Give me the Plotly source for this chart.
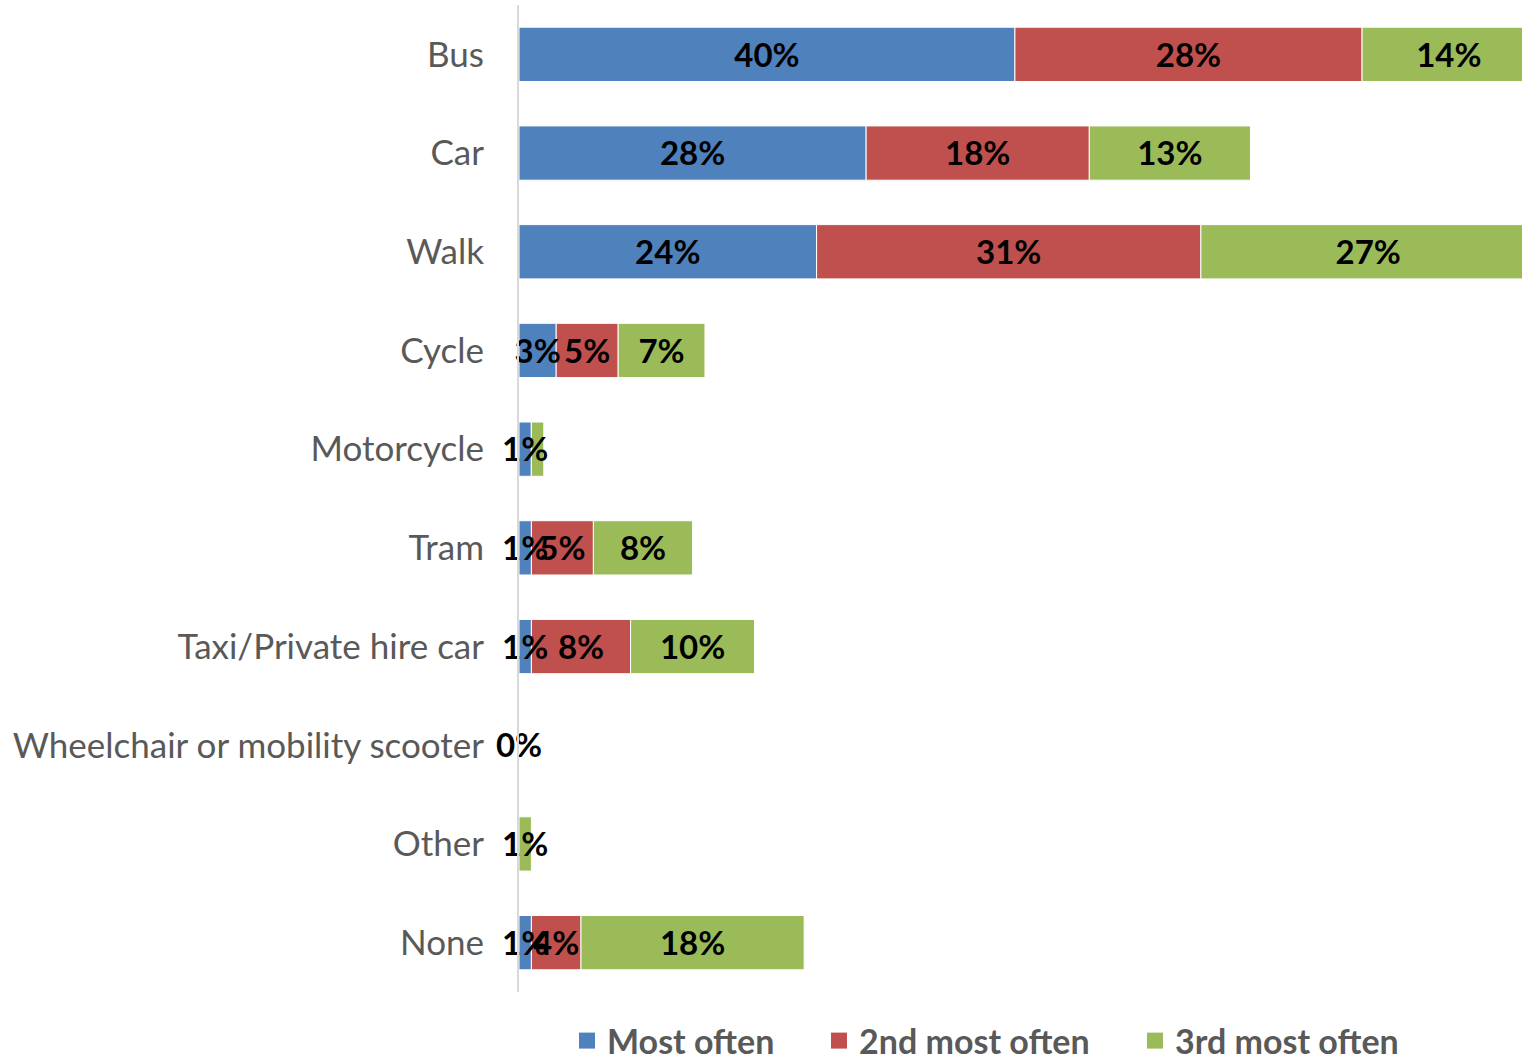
import plotly.graph_objects as go

categories = ["Bus", "Car", "Walk", "Cycle", "Motorcycle", "Tram", "Taxi/Private hire car",
              "Wheelchair or mobility scooter", "Other", "None"]
most_often = [40, 28, 24, 3, 1, 1, 1, 0, 0, 1]
second_most = [28, 18, 31, 5, 0, 5, 8, 0, 0, 4]
third_most = [14, 13, 27, 7, 1, 8, 10, 0, 1, 18]
series_names = ["Most often", "2nd most often", "3rd most often"]
colors = ["#4F81BD", "#C0504D", "#9BBB59"]

# which data labels are displayed (as in the original chart)
show_most = [1, 1, 1, 1, 1, 1, 1, 1, 0, 1]
show_second = [1, 1, 1, 1, 0, 1, 1, 0, 0, 1]
show_third = [1, 1, 1, 1, 0, 1, 1, 0, 1, 1]

FONT = "Lato"
series = [most_often, second_most, third_most]
shows = [show_most, show_second, show_third]

fig = go.Figure()
base = [0] * len(categories)
for vals, name, col, show in zip(series, series_names, colors, shows):
    fig.add_trace(go.Bar(
        y=categories, x=vals, base=base, orientation="h", name=name,
        marker=dict(color=col, line=dict(color="white", width=1)),
        showlegend=False, hoverinfo="x+name",
    ))
    centers = [b + v / 2 for b, v in zip(base, vals)]
    fig.add_trace(go.Scatter(
        y=categories, x=centers, mode="text", yaxis="y2",
        text=[f"{v}%" if s else "" for v, s in zip(vals, show)],
        textposition="middle center",
        textfont=dict(family=FONT, size=33, color="black", weight="bold"),
        showlegend=False, cliponaxis=False, hoverinfo="skip",
    ))
    base = [b + v for b, v in zip(base, vals)]

legend_ids = ["legend", "legend2", "legend3"]
legend_x = [567, 819, 1135]  # container pixel positions of legend boxes
for name, col, lid in zip(series_names, colors, legend_ids):
    fig.add_trace(go.Scatter(
        x=[None], y=[None], mode="markers", name=name, legend=lid,
        marker=dict(symbol="square", size=23, color=col),
    ))

legend_style = dict(orientation="h", xref="container", yref="container", y=19 / 1060,
                    yanchor="middle", xanchor="left", itemwidth=30,
                    bgcolor="rgba(0,0,0,0)",
                    font=dict(family=FONT, size=34, color="#595959", weight="bold"))

n = len(categories)
fig.update_layout(
    width=1522, height=1060,
    margin=dict(l=519, r=0, t=5, b=68),
    paper_bgcolor="white", plot_bgcolor="white",
    barmode="overlay", bargap=0.45,
    font=dict(family=FONT, color="#595959"),
    xaxis=dict(range=[0, 80.9], showgrid=False, showticklabels=False, zeroline=False,
               showline=False, fixedrange=True),
    yaxis=dict(categoryorder="array", categoryarray=categories, range=[n - 0.5, -0.5],
               showgrid=False, zeroline=False, showline=True, linecolor="#D9D9D9", linewidth=2,
               ticks="", ticklabelstandoff=26,
               tickfont=dict(family=FONT, size=35, color="#595959")),
    yaxis2=dict(overlaying="y", categoryorder="array", categoryarray=categories,
                range=[n - 0.54, -0.54], visible=False, showgrid=False, zeroline=False),
    legend=dict(x=legend_x[0] / 1522, **legend_style),
    legend2=dict(x=legend_x[1] / 1522, **legend_style),
    legend3=dict(x=legend_x[2] / 1522, **legend_style),
)

fig.write_html("out.html", config={"displayModeBar": False},
               post_script="document.body.style.margin='0';document.body.style.overflow='hidden';")
